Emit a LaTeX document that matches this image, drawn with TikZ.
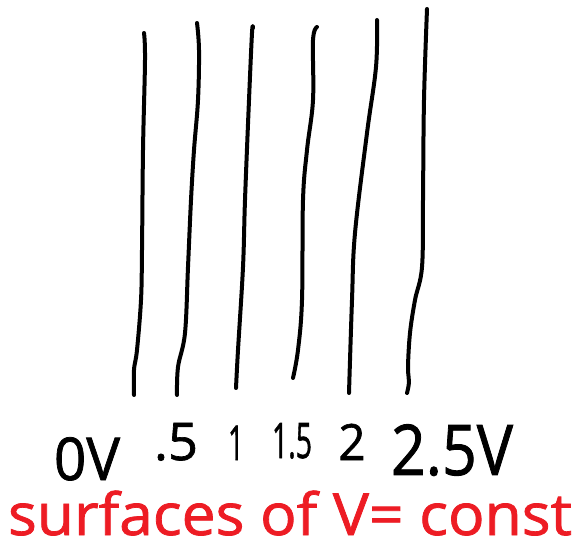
\documentclass[tikz,border=0pt]{standalone}
\usepackage{fontspec}
\setmainfont{Open Sans}
\usepackage{graphicx}
\definecolor{inkred}{HTML}{ED1C24}
\newcommand{\handwt}{\addfontfeature{FakeBold=1.3}}
\begin{document}
\begin{tikzpicture}[x=1pt,y=-1pt,
  ink/.style={line width=4pt,line cap=round,line join=round,black},
  lbl/.style={anchor=base,inner sep=0pt,outer sep=0pt,text=black},
  capt/.style={anchor=base west,inner sep=0pt,outer sep=0pt,text=inkred}]
\fill[white] (0,0) rectangle (579,548);
\useasboundingbox (0,0) rectangle (579,548);
% equipotential lines
\draw[ink] plot[smooth,tension=0.6] coordinates {(144,33) (145,60) (143,150) (142,250) (141,300) (137,350) (134,370) (134,395)};
\draw[ink] plot[smooth,tension=0.6] coordinates {(197,23) (199,50) (198,100) (194,150) (191,200) (188,267) (185,333) (178,367) (177,395)};
\draw[ink] plot[smooth,tension=0.6] coordinates {(253,28) (252,33) (249,100) (245,200) (243,267) (238,350) (236,388)};
\draw[ink] plot[smooth,tension=0.6] coordinates {(317,27) (313,40) (313,100) (307,150) (303,200) (302,300) (298,350) (293,378)};
\draw[ink] plot[smooth,tension=0.6] coordinates {(377,20) (376,67) (367,133) (355,233) (352,300) (349,393)};
\draw[ink] plot[smooth,tension=0.6] coordinates {(427,9) (424,100) (423,200) (422,267) (415,300) (410,333) (408,367) (409,382) (407,393)};
% labels
\node[lbl,font=\fontsize{59}{59}\selectfont\handwt] (l0) at (87,480) {\resizebox{66pt}{\height}{0V}};
\node[lbl,font=\fontsize{52}{52}\selectfont\handwt] (l1) at (176,460) {\resizebox{44pt}{\height}{.5}};
\node[lbl,font=\fontsize{48}{48}\selectfont\handwt] (l2) at (236,460) {\resizebox{16pt}{\height}{1}};
\node[lbl,font=\fontsize{49}{49}\selectfont\handwt] (l3) at (292,458) {\resizebox{40pt}{\height}{1.5}};
\node[lbl,font=\fontsize{50}{50}\selectfont\handwt] (l4) at (352,460) {\resizebox{27pt}{\height}{2}};
\node[lbl,font=\fontsize{70}{70}\selectfont\handwt] (l5) at (452,475) {\resizebox{122pt}{\height}{2.5V}};
\node[capt,font=\fontsize{58}{58}\selectfont\handwt] (cap) at (8,535) {\resizebox{564pt}{\height}{surfaces of V= const}};
\end{tikzpicture}
\end{document}
